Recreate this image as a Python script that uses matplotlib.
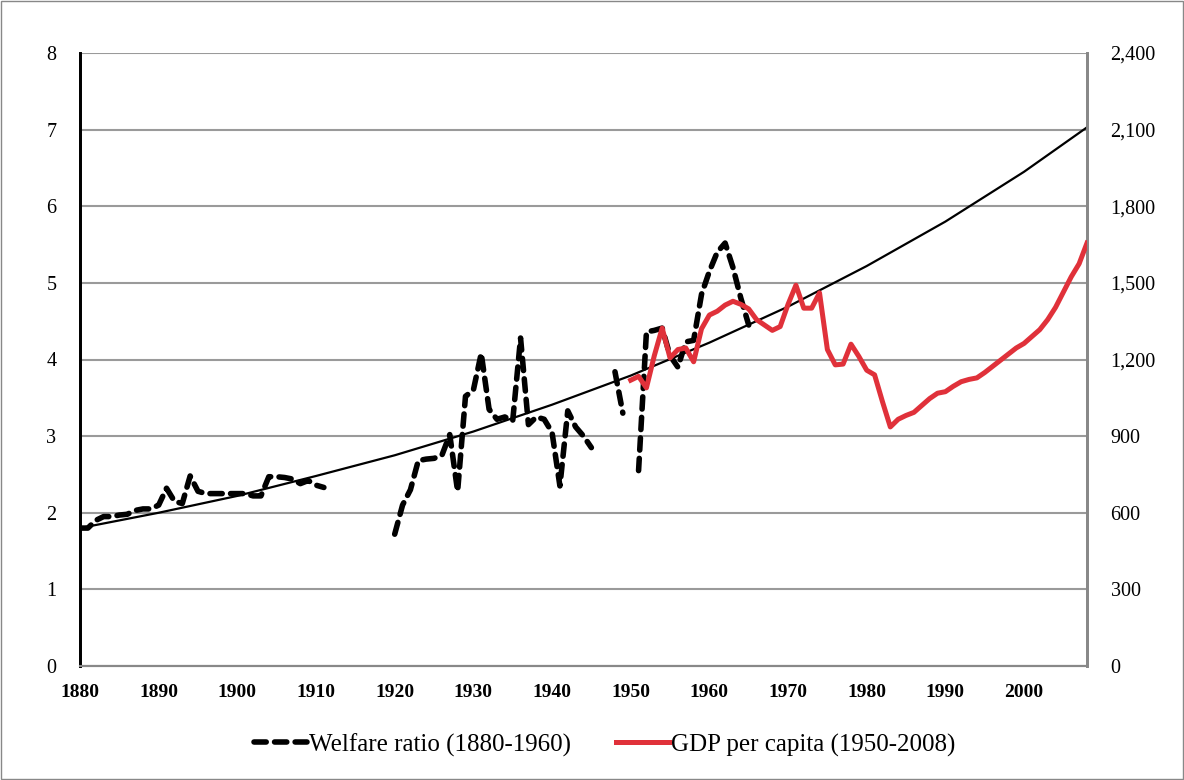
import matplotlib.pyplot as plt
from matplotlib.patches import Rectangle
from matplotlib.ticker import FuncFormatter
import numpy as np

nan = np.nan

# welfare ratio, left axis (gaps where no data)
welfare_years = list(range(1880, 1966))
welfare = [1.80, 1.80, 1.90, 1.95, 1.95, 1.97, 1.98, 2.03, 2.05, 2.05,   # 1880s
           2.10, 2.32, 2.15, 2.12, 2.48, 2.28, 2.25, 2.25, 2.25, 2.25,   # 1890s
           2.25, 2.25, 2.22, 2.22, 2.47, 2.47, 2.46, 2.44, 2.38, 2.42,   # 1900s
           2.36, 2.33, nan, nan, nan, nan, nan, nan, nan, nan,           # 1910s
           1.72, 2.10, 2.30, 2.68, 2.70, 2.71, 2.75, 3.02, 2.28, 3.52,   # 1920s
           3.60, 4.08, 3.35, 3.22, 3.25, 3.20, 4.28, 3.15, 3.25, 3.22,   # 1930s
           3.05, 2.35, 3.33, 3.12, 3.00, 2.85, nan, nan, 3.84, 3.30,     # 1940s
           nan, 2.55, 4.36, 4.38, 4.41, 4.05, 3.90, 4.23, 4.25, 4.85,    # 1950s
           5.15, 5.40, 5.52, 5.20, 4.80, 4.45]                           # 1960-65

# GDP per capita, right axis
gdp_years = list(range(1950, 2009))
gdp = [1119, 1134, 1089, 1215, 1323, 1206, 1239, 1245, 1191, 1320,
       1374, 1389, 1413, 1428, 1416, 1398, 1356, 1335, 1314, 1329,
       1416, 1491, 1401, 1401, 1461, 1239, 1179, 1182, 1260, 1212,
       1158, 1140, 1035, 936, 966, 981, 993, 1020, 1047, 1068,
       1074, 1095, 1113, 1122, 1128, 1149, 1173, 1197, 1221, 1245,
       1263, 1290, 1317, 1356, 1404, 1464, 1524, 1575, 1656]

# trend line read at each decade (left axis)
trend_years = [1880, 1890, 1900, 1910, 1920, 1930, 1940, 1950, 1960, 1970, 1980, 1990, 2000, 2008]
trend = [1.80, 2.00, 2.22, 2.48, 2.75, 3.06, 3.41, 3.79, 4.22, 4.69, 5.22, 5.80, 6.45, 7.03]

xticks = list(range(1880, 2001, 10))

plt.rcParams['font.family'] = ['Liberation Serif', 'DejaVu Serif']

fig = plt.figure(figsize=(11.84, 7.8), dpi=100)
fig.patches.append(Rectangle((0.001, 0.001), 0.998, 0.998, transform=fig.transFigure,
                             fill=False, edgecolor='#888888', linewidth=1))
ax = fig.add_axes([80 / 1184, 1 - 666 / 780, (1087 - 80) / 1184, (666 - 53) / 780])
ax2 = ax.twinx()

grid_c = '#9a9a9a'
ax.set_ylim(0, 8)
ax.set_yticks(range(0, 9))
ax.set_xlim(1880, 2008)
ax.set_xticks(xticks)
ax.grid(axis='y', color=grid_c, linewidth=1.5)
ax.set_axisbelow(True)

ax.plot(trend_years, trend, color='black', linewidth=1.6, zorder=3)
ax.plot(welfare_years, welfare, color='black', linewidth=4, linestyle=(0, (2.2, 1.5)),
        dash_capstyle='round', zorder=4, label='Welfare ratio (1880-1960)')

ax2.set_ylim(0, 2400)
ax2.set_yticks(range(0, 2401, 300))
ax2.yaxis.set_major_formatter(FuncFormatter(lambda v, p: f'{int(v):,}'))
ax2.plot(gdp_years, gdp, color='#e0313a', linewidth=3.6, zorder=5,
         label='GDP per capita (1950-2008)')

for a in (ax, ax2):
    a.spines['top'].set_visible(False)
    a.spines['left'].set_color('black')
    a.spines['left'].set_linewidth(2)
    a.spines['right'].set_color('#888888')
    a.spines['right'].set_linewidth(2)
    a.spines['bottom'].set_color('#888888')
    a.spines['bottom'].set_linewidth(1.5)
ax.tick_params(axis='y', length=0, labelsize=14.5, pad=17)
ax2.tick_params(axis='y', length=0, labelsize=14.5, pad=17)
ax.tick_params(axis='x', length=0, labelsize=14, pad=13)
for t in ax.get_xticklabels():
    t.set_fontweight('bold')

h1, l1 = ax.get_legend_handles_labels()
h2, l2 = ax2.get_legend_handles_labels()
fig.legend(h1 + h2, l1 + l2, loc='center', bbox_to_anchor=(0.511, 0.045), ncol=2,
           frameon=False, fontsize=18, handlelength=2.1, handletextpad=0.1, columnspacing=1.8)

fig.savefig('out.png', dpi=100)
